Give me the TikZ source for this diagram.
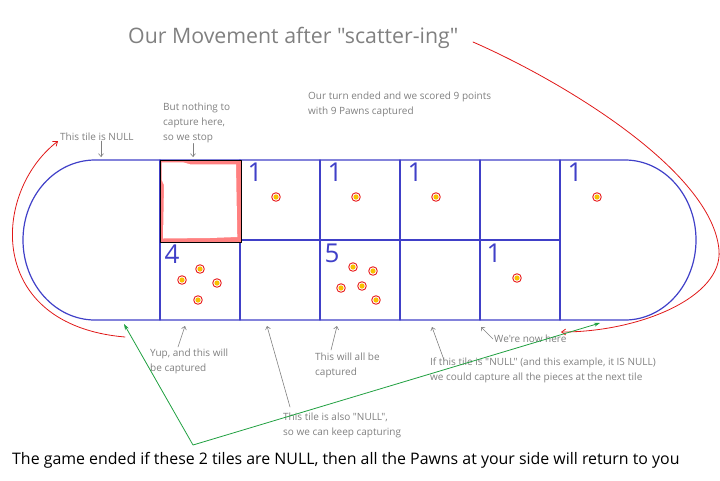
\documentclass[tikz,border=0pt]{standalone}
\usepackage{fontspec}
\setmainfont{Open Sans}[Ligatures=TeXOff]
\usetikzlibrary{arrows.meta}
\definecolor{boardblue}{HTML}{4040C8}
\definecolor{notegray}{HTML}{808080}
\definecolor{hilite}{HTML}{FF8080}
\definecolor{pawnred}{HTML}{E81818}
\definecolor{pawnyel}{HTML}{F8C000}
\definecolor{movered}{HTML}{E01818}
\definecolor{endgreen}{HTML}{20A040}
\tikzset{
  every picture/.style={line join=round, line cap=round},
  tileline/.style={boardblue, line width=1.2pt},
  note/.style={text=notegray, font=\fontsize{10}{15}\selectfont, align=left, anchor=north west, inner sep=0pt},
  pointer/.style={notegray, line width=0.6pt, -{Straight Barb[length=3pt,width=5pt]}},
  count/.style={text=boardblue, font=\fontsize{26}{26}\selectfont, anchor=north, inner sep=0pt},
  moveline/.style={movered, line width=0.8pt, -{Straight Barb[length=4pt,width=6pt]}},
  endline/.style={endgreen, line width=0.8pt, {Stealth[length=6pt,width=4pt]}-{Stealth[length=6pt,width=4pt]}},
}
\begin{document}
\begin{tikzpicture}[x=1pt,y=-1pt]
\useasboundingbox (0,0) rectangle (720,480);
\draw[tileline] (95,160) -- (625,160) arc[start angle=-90,end angle=90,x radius=71,y radius=80] -- (95,320) arc[start angle=90,end angle=270,x radius=72,y radius=80];
\draw[tileline] (160,240) -- (560,240);
\foreach \x in {160,240,...,560} \draw[tileline] (\x,160) -- (\x,320);
\fill[hilite] (160,160) rectangle (241,242);
\fill[white] (161.7,162.3) -- (183,162.3) -- (190,164.3) -- (236,164.3) -- (237.3,237) -- (210,238) -- (163,238.5) -- (164,185) -- (161.7,180) -- cycle;
\draw[black, line width=1pt] (160,160) rectangle (241,242);
\foreach \x/\y in {276/197, 356/197, 436/197, 597/197, 200/269, 182/280, 217/283, 198/300, 353/267, 373/271, 341/288, 362/286, 376/300, 517/278} {
  \filldraw[draw=pawnred, fill=white, line width=0.9pt] (\x,\y) circle[radius=4.3];
  \fill[pawnyel] (\x,\y) circle[radius=2.6];
}
\node[count] (c1) at (255,163) {1};
\node[count] (c2) at (335,163) {1};
\node[count] (c3) at (415,163) {1};
\node[count] (c4) at (575,163) {1};
\node[count] (c5) at (172,245) {4};
\node[count] (c6) at (332,244) {5};
\node[count] (c7) at (494,244) {1};

\node[anchor=base west, inner sep=0pt, text=notegray, font=\fontsize{21.3}{25}\selectfont] (title) at (128,43) {Our Movement after "scatter-ing"};
\node[note] (nullL) at (60,133) {This tile is NULL};
\node[note] (stopN) at (163,103) {But nothing to\\capture here,\\so we stop};
\node[note] (scoreN) at (308,92) {Our turn ended and we scored 9 points\\with 9 Pawns captured};
\node[note] (yupN) at (150,349) {Yup, and this will\\be captured};
\node[note] (allN) at (315,353) {This will all be\\captured};
\node[note] (alsoN) at (283,413) {This tile is also "NULL",\\so we can keep capturing};
\node[note] (nowN) at (494,335) {We're now here};
\node[note] (ifN) at (430,358) {If this tile is "NULL" (and this example, it IS NULL)\\we could capture all the pieces at the next tile};
\node[anchor=base west, inner sep=0pt, font=\fontsize{15.9}{19}\selectfont] (endN) at (12,464) {The game ended if these 2 tiles are NULL, then all the Pawns at your side will return to you};

\coordinate (t0) at (101,157);
\coordinate (t1) at (193,157);
\coordinate (t2) at (185,326);
\coordinate (t3) at (337,326);
\coordinate (t4) at (267,326);
\coordinate (t5) at (432,327);
\coordinate (t6) at (481,327);
\draw[pointer] (t0 |- nullL.south) -- (t0);
\draw[pointer] (t1 |- stopN.south) -- (t1);
\draw[pointer] ([xshift=28pt,yshift=2pt]yupN.north west) -- (t2);
\draw[pointer] ([xshift=16pt,yshift=3pt]allN.north west) -- (t3);
\draw[pointer] ([xshift=7pt,yshift=6pt]alsoN.north west) -- (t4);
\draw[pointer] ([xshift=14pt,yshift=-2pt]ifN.north west) -- (t5);
\draw[pointer] ([xshift=-1pt]nowN.west) -- (t6);

\coordinate (rl) at (125,337);
\coordinate (rs) at (473,42);
\coordinate (re) at (561,332);
\draw[moveline] (rl) .. controls (-15,325) and (-8,192) .. ([xshift=-2pt]nullL.south west);
\draw[moveline] (rs) .. controls (560,80) and (712,170) .. (719,250) .. controls (723,297) and (640,332) .. (re);

\coordinate (gL) at (124,324);
\coordinate (gC) at (193,445);
\coordinate (gR) at (600,323);
\draw[endline] (gL) -- (gC) -- (gR);
\end{tikzpicture}
\end{document}
